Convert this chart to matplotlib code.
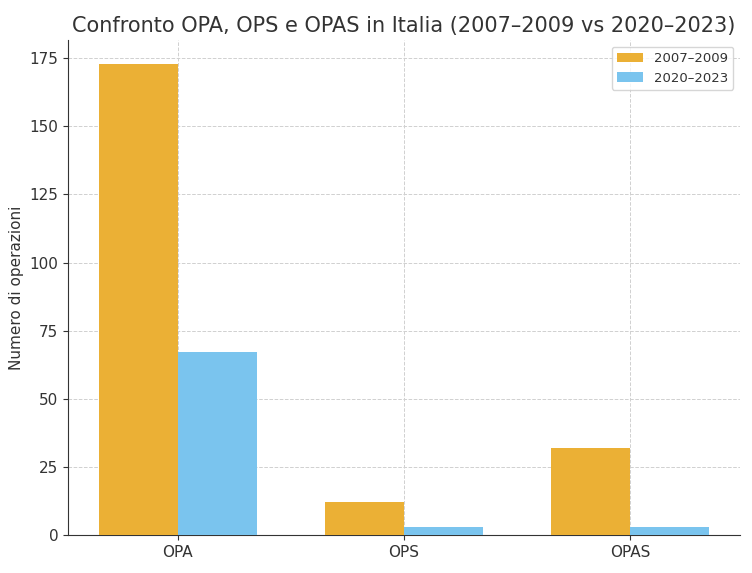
import matplotlib
matplotlib.use('Agg')
import matplotlib.pyplot as plt
import numpy as np

# Dati
categorie = ['OPA', 'OPS', 'OPAS']
periodo_1 = [173, 12, 32]   # 2007–2009
periodo_2 = [67, 3, 3]      # 2020–2023
etichette = ['2007–2009', '2020–2023']

plt.rcParams['text.color'] = '#333333'
plt.rcParams['axes.labelcolor'] = '#333333'
plt.rcParams['xtick.color'] = '#333333'
plt.rcParams['ytick.color'] = '#333333'

fig = plt.figure(figsize=(7.52, 5.73), dpi=100)
ax = fig.add_axes([0.0904, 0.0663, 0.8936, 0.8637])

x = np.arange(len(categorie))
w = 0.35
ax.bar(x - w / 2, periodo_1, w, color='#EBB035', label=etichette[0], zorder=3)
ax.bar(x + w / 2, periodo_2, w, color='#7AC4EE', label=etichette[1], zorder=3)

ax.set_xticks(x)
ax.set_xticklabels(categorie)
ax.tick_params(labelsize=11)
ax.set_ylabel('Numero di operazioni', fontsize=11)
ax.set_title('Confronto OPA, OPS e OPAS in Italia (2007–2009 vs 2020–2023)', fontsize=15)

ax.grid(True, linestyle='--', color='#d0d0d0', linewidth=0.7, zorder=0)
ax.spines['top'].set_visible(False)
ax.spines['right'].set_visible(False)
ax.spines['left'].set_color('#333333')
ax.spines['bottom'].set_color('#333333')

ax.legend(loc='upper right', fontsize=9.5)

fig.savefig('out.png', dpi=100)
